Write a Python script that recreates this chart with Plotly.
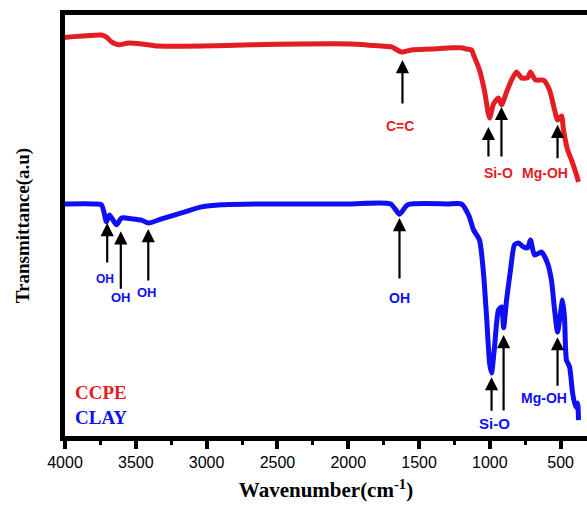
import plotly.graph_objects as go

# ---- data (transmittance in arbitrary units) ----
ccpe_wn = [4000, 3989, 3742, 3707, 3672, 3622, 3552, 3460, 3340, 3036, 2683, 2330, 1976,
           1765, 1694, 1624, 1553, 1412, 1271, 1200, 1165, 1129, 1115, 1073, 1039, 1002,
           974, 939, 917, 882, 847, 812, 776, 734, 713, 677, 621, 579, 543, 522, 494, 480,
           451, 423, 388, 374]
ccpe_t = [94.2, 94.2, 94.7, 94.2, 93.1, 92.4, 92.8, 92.6, 92.1, 92.1, 92.4, 92.6, 92.6,
          92.1, 91.9, 90.7, 91.2, 91.4, 91.7, 91.7, 91.4, 91.2, 90.0, 86.5, 81.8, 75.2,
          78.5, 79.9, 78.3, 81.3, 84.1, 86.0, 84.6, 84.6, 86.0, 84.1, 84.1, 81.8, 77.1,
          74.7, 75.7, 72.4, 67.7, 65.3, 61.8, 60.2]

clay_wn = [4000, 3800, 3742, 3707, 3686, 3636, 3601, 3530, 3460, 3410, 3318, 3177, 3036,
           2895, 2612, 2000, 1700, 1638, 1580, 1300, 1200, 1150, 1115, 1073, 1045, 1023,
           1002, 988, 967, 939, 917, 903, 882, 854, 826, 798, 762, 734, 713, 684, 635, 593,
           565, 543, 522, 501, 487, 473, 459, 437, 416, 395, 381, 374]
clay_t = [55.0, 55.0, 54.8, 50.8, 52.4, 50.1, 51.7, 51.5, 51.2, 50.5, 51.5, 52.9, 54.3,
          54.8, 55.0, 55.0, 55.0, 52.6, 54.8, 55.0, 55.0, 52.4, 48.9, 46.5, 38.8, 28.4,
          17.6, 15.3, 21.4, 30.1, 30.8, 25.9, 32.4, 39.5, 45.4, 45.8, 44.9, 44.7, 46.5,
          43.0, 43.7, 41.1, 37.1, 30.1, 24.9, 29.4, 32.4, 28.4, 18.3, 16.7, 10.6, 7.3,
          8.2, 4.2]

x_ticks = [4000, 3500, 3000, 2500, 2000, 1500, 1000, 500]

# band assignments: (label, arrow tip wavenumber, arrow tip transmittance, arrow length px)
ccpe_bands = [("C=C", 1617, 88.8, 45), ("Si-O", 1010, 73.1, 31), ("Si-O", 918, 77.8, 51),
              ("Mg-OH", 522, 73.6, 35)]
clay_bands = [("OH", 3702, 50.5, 41), ("OH", 3606, 48.6, 59), ("OH", 3412, 49.1, 53),
              ("OH", 1638, 51.7, 62), ("Si-O", 988, 14.3, 35), ("Si-O", 903, 24.2, 77),
              ("Mg-OH", 522, 23.7, 50)]
# text labels: (text, wavenumber, transmittance, font size)
ccpe_labels = [("C=C", 1631, 73.3, 14), ("Si-O", 939, 62.2, 14), ("Mg-OH", 614, 62.2, 14)]
clay_labels = [("OH", 3721, 37.4, 12), ("OH", 3608, 32.9, 13), ("OH", 3424, 34.3, 13),
               ("OH", 1638, 32.9, 14), ("Si-O", 967, 3.5, 15), ("Mg-OH", 621, 9.5, 14)]

RED = "rgb(228,28,36)"
BLUE = "rgb(15,15,245)"

fig = go.Figure()
fig.add_trace(go.Scatter(x=ccpe_wn, y=ccpe_t, mode="lines", name="CCPE",
                         line=dict(color=RED, width=5, shape="spline", smoothing=0.6)))
fig.add_trace(go.Scatter(x=clay_wn, y=clay_t, mode="lines", name="CLAY",
                         line=dict(color=BLUE, width=5, shape="spline", smoothing=0.6)))

ann = []
for bands in (ccpe_bands, clay_bands):
    for _, wn, t, length in bands:
        ann.append(dict(x=wn, y=t, xref="x", yref="y", text="", showarrow=True,
                        ax=0, ay=length, axref="pixel", ayref="pixel",
                        arrowhead=2, arrowsize=1.2, arrowwidth=2.2, arrowcolor="black",
                        standoff=0, startstandoff=0))
for labels, col in ((ccpe_labels, RED), (clay_labels, BLUE)):
    for txt, wn, t, size in labels:
        ann.append(dict(x=wn, y=t, xref="x", yref="y", text="<b>%s</b>" % txt,
                        showarrow=False, font=dict(family="Liberation Sans, Arial",
                                                   size=size, color=col)))
# legend-like labels
ann.append(dict(x=3944, y=10.6, xref="x", yref="y", text="<b>CCPE</b>", showarrow=False,
                xanchor="left", font=dict(family="Liberation Serif, Times New Roman",
                                          size=19, color=RED)))
ann.append(dict(x=3944, y=4.9, xref="x", yref="y", text="<b>CLAY</b>", showarrow=False,
                xanchor="left", font=dict(family="Liberation Serif, Times New Roman",
                                          size=19, color=BLUE)))

fig.update_layout(
    width=587, height=514,
    margin=dict(l=65, r=0, t=15, b=78),
    paper_bgcolor="white", plot_bgcolor="white",
    showlegend=False,
    annotations=ann,
    xaxis=dict(range=[4000, 314], tickvals=x_ticks, ticktext=[str(v) for v in x_ticks],
               showline=True, linewidth=5, linecolor="black", mirror=True,
               ticks="outside", ticklen=8, tickwidth=4, tickcolor="black",
               minor=dict(dtick=250, ticks="outside", ticklen=4, tickwidth=3,
                          tickcolor="black", tick0=0),
               showgrid=False, zeroline=False,
               tickfont=dict(family="Liberation Sans, Arial", size=16, color="black"),
               title=dict(text="<b>Wavenumber(cm<sup>-1</sup>)</b>", standoff=14,
                          font=dict(family="Liberation Serif, Times New Roman", size=21,
                                    color="black"))),
    yaxis=dict(range=[0.47, 99.4], showline=True, linewidth=5, linecolor="black",
               showticklabels=False, ticks="", showgrid=False, zeroline=False,
               title=dict(text="<b>Transmittance(a.u)</b>", standoff=27,
                          font=dict(family="Liberation Serif, Times New Roman", size=19,
                                    color="black"))),
)

fig.write_html("out.html")
